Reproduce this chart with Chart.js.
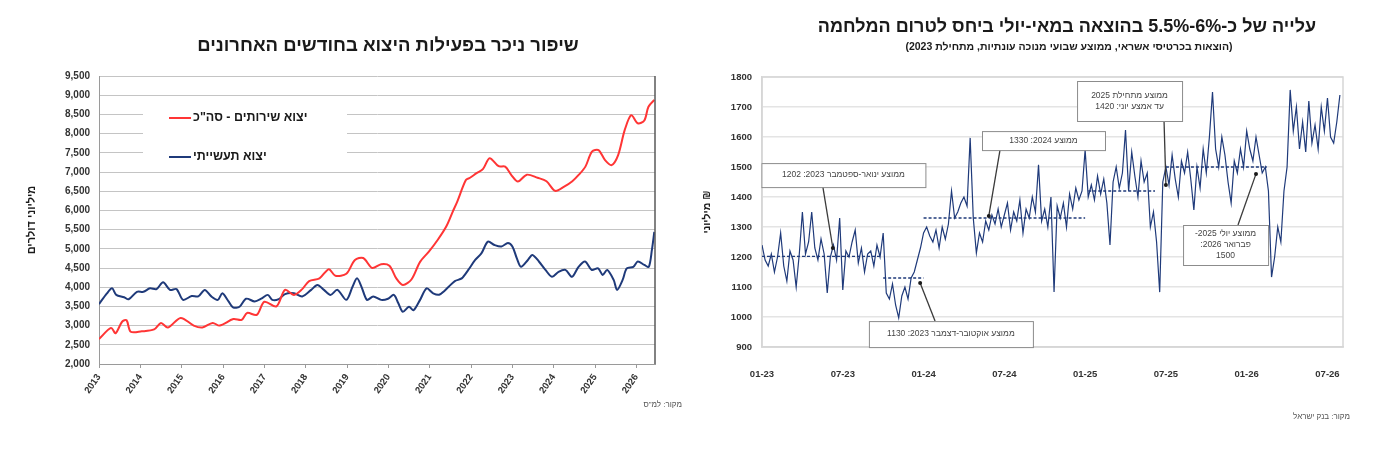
<!DOCTYPE html>
<html lang="he">
<head>
<meta charset="utf-8">
<title>יצוא והוצאות בכרטיסי אשראי</title>
<script src="https://cdn.jsdelivr.net/npm/chart.js@4.4.1/dist/chart.umd.min.js"></script>
<style>
  html, body { margin: 0; padding: 0; background: #fff; }
  body { width: 1388px; height: 450px; position: relative; overflow: hidden;
         font-family: "Liberation Sans", "DejaVu Sans", Arial, sans-serif; }
  .panel { position: absolute; top: 0; height: 450px; }
  .title { position: absolute; direction: rtl; font-weight: bold; color: #1a1a1a;
           white-space: nowrap; text-align: center; }
  .source { position: absolute; direction: rtl; font-size: 8px; color: #555; white-space: nowrap; }
</style>
</head>
<body>
<div class="panel" style="left:0;width:690px"><canvas id="exportsChart" width="690" height="450"></canvas></div>
<div class="panel" style="left:690px;width:698px"><canvas id="spendChart" width="698" height="450"></canvas></div>

<div class="title" style="left:0;width:776px;top:34px;font-size:18.5px">שיפור ניכר בפעילות היצוא בחודשים האחרונים</div>
<div class="title" style="left:790px;width:554px;top:16px;font-size:18px">עלייה של כ-6%-5.5% בהוצאה במאי-יולי ביחס לטרום המלחמה</div>
<div class="title" style="left:790px;width:558px;top:40px;font-size:10.5px">(הוצאות בכרטיסי אשראי, ממוצע שבועי מנוכה עונתיות, מתחילת 2023)</div>
<div class="source" style="right:706px;top:400px">מקור: למ"ס</div>
<div class="source" style="right:38px;top:412px">מקור: בנק ישראל</div>

<script>
// ---- left chart: exports, millions of USD, x = months since Jan 2013 ----
const exportYears = ['2013', '2014', '2015', '2016', '2017', '2018', '2019', '2020',
                     '2021', '2022', '2023', '2024', '2025', '2026'];

const servicesMonths = [0, 3.5, 4.8, 6.7, 8, 9.2, 12.4, 16, 18, 20, 23.7, 27.5, 30, 33, 35, 39, 41.4, 43,
  45.8, 48, 51.5, 54, 56.6, 59, 61, 64, 66.7, 68.6, 71.8, 74.3, 76.7, 79.3, 81.9, 84.3, 86.3, 88.2,
  90.7, 93.2, 95.7, 98.3, 100.8, 102.7, 104, 106.5, 107.7, 109.6, 111.5, 113.4, 116, 117.9, 119.7,
  121.6, 124.2, 127.3, 129.9, 132.4, 134.9, 137.4, 139.3, 141.2, 143.1, 145, 146.9, 148.8, 150.7,
  152.6, 154.5, 156.4, 158.3, 159.5, 161.2];
const servicesValues = [2650, 2940, 2800, 3100, 3140, 2840, 2850, 2900, 3070, 2950, 3200, 3000, 2950, 3070, 3000, 3170, 3150, 3330,
  3280, 3620, 3500, 3930, 3800, 3950, 4160, 4230, 4470, 4300, 4350, 4710, 4760, 4500, 4600, 4560, 4230, 4060,
  4200, 4660, 4920, 5230, 5580, 5970, 6230, 6790, 6850, 6970, 7080, 7360, 7150, 7140, 6920,
  6750, 6930, 6850, 6760, 6510, 6610, 6760, 6930, 7140, 7530, 7570, 7310, 7180, 7440,
  8090, 8480, 8270, 8340, 8700, 8875];

const industryMonths = [0, 2.3, 3.8, 5, 7.3, 8.6, 11, 12.9, 14.8, 16.7, 18.6, 20.6, 22.5, 24.4, 26.9, 28.8,
  30.7, 32.6, 34.5, 35.8, 37.6, 38.9, 40.8, 42.7, 45.2, 47.1, 49, 50.3, 52.2, 54, 56.6, 59, 61.6, 63.4,
  65.3, 67.2, 69.2, 71.8, 73.6, 74.9, 76.2, 77.8, 79.6, 81.9, 83.9, 85.6, 86.9, 88.2, 90, 91.3, 93.2,
  95.1, 97, 98.9, 101.5, 103.3, 105.3, 107.2, 109.2, 111, 112.9, 114.8, 116.8, 118.7, 120, 121.3, 122.5,
  124.5, 125.8, 127.7, 129.6, 131.5, 133.4, 135.4, 137.3, 139.2, 141.1, 143, 144.9, 146.2, 147.5, 149.4,
  150.4, 152, 153.2, 155.1, 156.4, 158.3, 159.6, 160.5, 161.2];
const industryValues = [3560, 3840, 3970, 3800, 3740, 3685, 3880, 3880, 3970, 3950, 4130, 3930, 3950, 3670, 3770, 3760,
  3930, 3760, 3670, 3840, 3630, 3475, 3490, 3700, 3630, 3700, 3800, 3670, 3690, 3820, 3840, 3760, 3930, 4060,
  3930, 3800, 3930, 3670, 4010, 4230, 4010, 3670, 3760, 3670, 3700, 3800, 3580, 3360, 3490, 3400, 3670,
  3970, 3840, 3810, 4010, 4160, 4230, 4450, 4710, 4880, 5185, 5100, 5060, 5150, 5060, 4750, 4530,
  4710, 4840, 4670, 4450, 4270, 4400, 4450, 4270, 4530, 4670, 4450, 4490, 4320, 4450, 4190,
  3930, 4190, 4490, 4530, 4670, 4580, 4530, 4970, 5440];

// ---- right chart: weekly credit card spending, millions of NIS, x = week since Jan 2023 ----
const spendTickLabels = ['01-23', '07-23', '01-24', '07-24', '01-25', '07-25', '01-26', '07-26'];
const weeklySpending = [
  1240, 1190, 1170, 1210, 1150, 1200, 1280, 1170, 1120, 1220, 1190, 1100, 1210,
  1350, 1210, 1250, 1350, 1230, 1190, 1260, 1210, 1080, 1200, 1240, 1190, 1330,
  1090, 1220, 1200, 1250, 1290, 1180, 1230, 1150, 1210, 1220, 1170, 1240, 1200,
  1280, 1080, 1060, 1110, 1040, 997, 1070, 1100, 1060, 1130, 1150, 1190, 1230,
  1280, 1300, 1270, 1250, 1290, 1230, 1300, 1260, 1310, 1420, 1330, 1350, 1380,
  1400, 1370, 1597, 1330, 1213, 1280, 1250, 1320, 1290, 1340, 1310, 1360, 1300,
  1340, 1380, 1290, 1350, 1320, 1390, 1280, 1360, 1330, 1400, 1350, 1507, 1320,
  1360, 1300, 1400, 1083, 1370, 1330, 1380, 1300, 1410, 1360, 1430, 1390, 1420,
  1557, 1400, 1440, 1390, 1470, 1410, 1460, 1380, 1240, 1450, 1500, 1430, 1480,
  1623, 1420, 1550, 1470, 1400, 1520, 1450, 1480, 1300, 1350, 1250, 1083, 1450,
  1500, 1440, 1540, 1460, 1400, 1520, 1480, 1550, 1460, 1357, 1500, 1430, 1560,
  1480, 1600, 1750, 1560, 1500, 1600, 1540, 1450, 1380, 1520, 1480, 1560, 1500,
  1620, 1560, 1520, 1600, 1540, 1480, 1500, 1420, 1133, 1200, 1300, 1250, 1420,
  1500, 1757, 1620, 1700, 1560, 1650, 1550, 1720, 1580, 1640, 1560, 1700, 1620,
  1730, 1600, 1580, 1650, 1740
];
// period averages (dashed lines): value, first week, last week
const avgValues = [1202, 1130, 1330, 1420, 1500];
const avgFrom = [0, 39, 52, 105, 130];
const avgTo = [38, 52, 104, 126.5, 162.5];

const NAVY = '#1f3a7a';
const RED = '#ff3535';
const FONT = '"Liberation Sans", "DejaVu Sans", Arial, sans-serif';
Chart.defaults.font.family = FONT;
Chart.defaults.color = '#333';

// legend drawn inside the plot, on a white patch over the grid
const insideLegend = {
  id: 'insideLegend',
  beforeDatasetsDraw(chart) {
    const { ctx, chartArea: a } = chart;
    ctx.save();
    ctx.fillStyle = '#fff';
    ctx.fillRect(a.left + 44, a.top + 24, 204, 65);
    chart.data.datasets.forEach((ds, i) => {
      const yy = a.top + 42 + i * 39;
      ctx.strokeStyle = ds.borderColor;
      ctx.lineWidth = 2;
      ctx.beginPath();
      ctx.moveTo(a.left + 70, yy);
      ctx.lineTo(a.left + 92, yy);
      ctx.stroke();
      ctx.fillStyle = '#1a1a1a';
      ctx.font = 'bold 12.5px ' + FONT;
      ctx.direction = 'rtl';
      ctx.textAlign = 'left';
      ctx.textBaseline = 'middle';
      ctx.fillText(ds.label, a.left + 94, yy);
    });
    ctx.restore();
  },
  afterDraw(chart) {
    const { ctx, chartArea: a } = chart;
    ctx.save();
    ctx.strokeStyle = '#595959';
    ctx.lineWidth = 1.5;
    ctx.beginPath();
    ctx.moveTo(a.right, a.top);
    ctx.lineTo(a.right, a.bottom);
    ctx.stroke();
    ctx.restore();
  }
};

new Chart(document.getElementById('exportsChart'), {
  type: 'line',
  data: {
    datasets: [
      { label: 'יצוא שירותים - סה"כ', data: servicesMonths.map((m, i) => ({ x: m, y: servicesValues[i] })),
        borderColor: RED, borderWidth: 2, pointRadius: 0, tension: 0.3 },
      { label: 'יצוא תעשייתי', data: industryMonths.map((m, i) => ({ x: m, y: industryValues[i] })),
        borderColor: NAVY, borderWidth: 2, pointRadius: 0, tension: 0.3 }
    ]
  },
  options: {
    responsive: false,
    animation: false,
    layout: { padding: { top: 76, right: 35, left: 0, bottom: 0 } },
    plugins: { legend: { display: false }, tooltip: { enabled: false } },
    scales: {
      x: {
        type: 'linear', min: 0, max: 161.4,
        afterBuildTicks: s => { s.ticks = exportYears.map((_, i) => ({ value: i * 12 })); },
        afterFit: s => { s.height = 86; },
        ticks: {
          minRotation: 55, maxRotation: 55, padding: 4,
          font: { size: 9.5, weight: 'bold' }, color: '#333',
          callback: (v, i) => exportYears[i]
        },
        grid: { drawOnChartArea: false, drawTicks: true, tickLength: 4, color: '#9a9a9a' },
        border: { color: '#9a9a9a' }
      },
      y: {
        min: 2000, max: 9500,
        afterFit: s => { s.width = 99; },
        ticks: {
          stepSize: 500, padding: 9,
          font: { size: 10, weight: 'bold' }, color: '#333',
          callback: v => v.toLocaleString('en-US')
        },
        grid: { color: '#c4c4c4', drawTicks: false },
        border: { color: '#9a9a9a' },
        title: { display: true, text: 'מיליוני דולרים', font: { size: 11, weight: 'bold' },
                 color: '#1a1a1a', padding: { top: 25 } }
      }
    }
  },
  plugins: [insideLegend]
});

// callout boxes of the right chart, placed in data units
const notes = [
  { lines: ['ממוצע ינואר-ספטמבר 2023: 1202'], box: [26.2, 1473], w: 164, h: 24, from: 19.6, to: [22.8, 1230] },
  { lines: ['ממוצע 2024: 1330'], box: [90.6, 1588], w: 123, h: 19, from: 76.6, to: [73, 1337] },
  { lines: ['ממוצע מתחילת 2025', 'עד אמצע יוני: 1420'], box: [118.3, 1720], w: 105, h: 40, from: 129.4, to: [130, 1440] },
  { lines: ['ממוצע יולי 2025-', 'פברואר 2026:', '1500'], box: [149.2, 1240], w: 85, h: 40, from: 153.2, to: [159, 1477] },
  { lines: ['ממוצע אוקטובר-דצמבר 2023: 1130'], box: [60.8, 943], w: 164, h: 26, from: 55.7, to: [50.9, 1113] }
];

const callouts = {
  id: 'callouts',
  beforeDatasetsDraw(chart) {
    const { ctx, chartArea: a } = chart;
    ctx.save();
    ctx.strokeStyle = '#d6d6d6';
    ctx.lineWidth = 1.5;
    ctx.strokeRect(a.left, a.top, a.right - a.left, a.bottom - a.top);
    ctx.restore();
  },
  afterDatasetsDraw(chart) {
    const { ctx, scales: { x, y } } = chart;
    ctx.save();
    notes.forEach(n => {
      const cx = x.getPixelForValue(n.box[0]);
      const cy = y.getPixelForValue(n.box[1]);
      const left = cx - n.w / 2, top = cy - n.h / 2;
      const tx = x.getPixelForValue(n.to[0]);
      const ty = y.getPixelForValue(n.to[1]);
      const sx = x.getPixelForValue(n.from);
      const sy = ty < cy ? top : top + n.h;
      ctx.strokeStyle = '#3a3a3a';
      ctx.lineWidth = 1.3;
      ctx.beginPath();
      ctx.moveTo(sx, sy);
      ctx.lineTo(tx, ty);
      ctx.stroke();
      ctx.fillStyle = '#1a1a1a';
      ctx.beginPath();
      ctx.arc(tx, ty, 2, 0, Math.PI * 2);
      ctx.fill();
      ctx.fillStyle = '#fff';
      ctx.fillRect(left, top, n.w, n.h);
      ctx.strokeStyle = '#8c8c8c';
      ctx.lineWidth = 1;
      ctx.strokeRect(left + 0.5, top + 0.5, n.w, n.h);
      ctx.fillStyle = '#444';
      ctx.font = '8.5px ' + FONT;
      ctx.direction = 'rtl';
      ctx.textAlign = 'center';
      ctx.textBaseline = 'middle';
      const lh = 11;
      n.lines.forEach((t, k) => {
        ctx.fillText(t, cx, cy + (k - (n.lines.length - 1) / 2) * lh);
      });
    });
    ctx.restore();
  }
};

const avgDatasets = avgValues.map((v, i) => ({
  data: [{ x: avgFrom[i], y: v }, { x: avgTo[i], y: v }],
  borderColor: NAVY, borderWidth: 1.3, borderDash: [3, 2], pointRadius: 0, order: 0
}));

new Chart(document.getElementById('spendChart'), {
  type: 'line',
  data: {
    datasets: [
      ...avgDatasets,
      { label: 'הוצאה שבועית', data: weeklySpending.map((v, i) => ({ x: i, y: v })),
        borderColor: NAVY, borderWidth: 1.2, pointRadius: 0, tension: 0, order: 1 }
    ]
  },
  options: {
    responsive: false,
    animation: false,
    layout: { padding: { top: 77, right: 45, left: 0, bottom: 0 } },
    plugins: { legend: { display: false }, tooltip: { enabled: false } },
    scales: {
      x: {
        type: 'linear', min: 0, max: 187,
        afterBuildTicks: s => { s.ticks = spendTickLabels.map((_, i) => ({ value: i * 26 })); },
        afterFit: s => { s.height = 103; },
        ticks: {
          maxRotation: 0, padding: 14,
          font: { size: 9.5, weight: 'bold' }, color: '#333',
          callback: (v, i) => spendTickLabels[i]
        },
        grid: { display: false },
        border: { color: '#d6d6d6', width: 1.5 }
      },
      y: {
        min: 900, max: 1800,
        afterFit: s => { s.width = 72; },
        ticks: { stepSize: 100, padding: 10, font: { size: 9.5, weight: 'bold' }, color: '#333',
                 callback: v => String(v) },
        grid: { color: '#e4e4e4', lineWidth: 1.5, drawTicks: false },
        border: { color: '#d6d6d6', width: 1.5 },
        title: { display: true, text: 'מיליוני ₪', font: { size: 10.5, weight: 'bold' },
                 color: '#1a1a1a', padding: { top: 11 } }
      }
    }
  },
  plugins: [callouts]
});
</script>
</body>
</html>
